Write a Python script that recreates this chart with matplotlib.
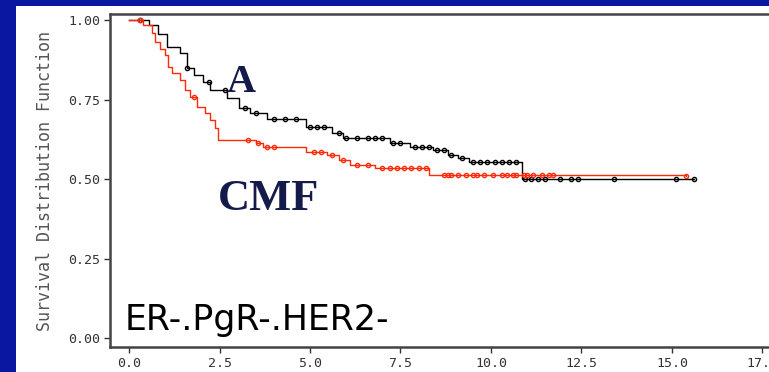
# Kaplan-Meier style survival plot, A vs CMF, ER-.PgR-.HER2- subgroup

import matplotlib
matplotlib.use("Agg")
import matplotlib.pyplot as plt
import numpy as np
from matplotlib.patches import Rectangle

# step curves (time in years, survival)
times_a = [0, 0.55, 0.8, 1.05, 1.4, 1.6, 1.8, 2.05, 2.25, 2.7, 3.05, 3.35, 3.8,
           4.9, 5.6, 5.9, 7.2, 7.75, 8.4, 8.8, 9.1, 9.4, 10.85, 15.6]
surv_a = [1.0, 0.985, 0.955, 0.915, 0.895, 0.85, 0.827, 0.805, 0.78, 0.755, 0.723,
          0.708, 0.69, 0.665, 0.645, 0.63, 0.613, 0.60, 0.59, 0.575, 0.565, 0.553,
          0.50, 0.50]
times_c = [0, 0.4, 0.63, 0.72, 0.86, 1.0, 1.08, 1.2, 1.4, 1.55, 1.69, 1.88, 2.1,
           2.24, 2.38, 2.46, 3.5, 3.7, 4.9, 5.47, 5.8, 6.1, 6.8, 8.3, 15.4]
surv_c = [1.0, 0.985, 0.96, 0.93, 0.91, 0.89, 0.852, 0.833, 0.81, 0.78, 0.758,
          0.726, 0.708, 0.686, 0.66, 0.623, 0.613, 0.60, 0.585, 0.575, 0.56, 0.544,
          0.535, 0.512, 0.51]

# censored observations
cens_a = [0.3, 1.6, 2.2, 2.65, 3.2, 3.5, 4.0, 4.3, 4.6, 5.0, 5.2, 5.4, 5.8, 6.0,
          6.3, 6.6, 6.8, 7.0, 7.3, 7.5, 7.9, 8.1, 8.3, 8.5, 8.7, 8.9, 9.2, 9.5,
          9.7, 9.9, 10.1, 10.3, 10.5, 10.7, 10.95, 11.1, 11.3, 11.5, 11.9, 12.2,
          12.4, 13.4, 15.1, 15.6]
cens_c = [0.3, 1.8, 3.3, 3.55, 3.8, 4.0, 5.1, 5.3, 5.6, 5.9, 6.3, 6.6, 7.0, 7.2,
          7.4, 7.6, 7.8, 8.0, 8.2, 8.7, 8.8, 8.9, 9.1, 9.3, 9.5, 9.6, 9.8, 10.05,
          10.3, 10.45, 10.6, 10.7, 10.9, 11.0, 11.15, 11.4, 11.6, 11.7, 15.4]

xticks = [0.0, 2.5, 5.0, 7.5, 10.0, 12.5, 15.0, 17.5]
xticklabels = ["0.0", "2.5", "5.0", "7.5", "10.0", "12.5", "15.0", "17.5"]
yticks = [0.0, 0.25, 0.5, 0.75, 1.0]
yticklabels = ["0.00", "0.25", "0.50", "0.75", "1.00"]


def step_at(t, times, surv):
    idx = np.searchsorted(times, t, side="right") - 1
    return np.asarray(surv)[idx]


fig = plt.figure(figsize=(7.69, 3.72), dpi=100)
fig.patch.set_facecolor("#0a17a0")
fig.add_artist(Rectangle((16 / 769, 0), 1, (372 - 6) / 372,
                         transform=fig.transFigure, facecolor="white",
                         edgecolor="none", zorder=0))

ax = fig.add_axes([110 / 769, 25 / 372, 1 - 110 / 769, 333 / 372])
ax.set_facecolor("white")

ax.step(times_a, surv_a, where="post", color="black", lw=1.0)
ax.step(times_c, surv_c, where="post", color="#ff2a0a", lw=1.0)
ax.plot(cens_a, step_at(cens_a, times_a, surv_a), "o", ms=3, mfc="none",
        mec="black", mew=1.0)
ax.plot(cens_c, step_at(cens_c, times_c, surv_c), "o", ms=3, mfc="none",
        mec="#ff2a0a", mew=1.0)

ax.set_xlim(-0.525, 17.68)
ax.set_ylim(-0.028, 1.019)
ax.set_xticks(xticks)
ax.set_xticklabels(xticklabels)
ax.set_yticks(yticks)
ax.set_yticklabels(yticklabels)
ax.tick_params(axis="both", direction="out", length=4, width=1, color="#333333",
               labelcolor="#333333", labelsize=9.5)
ax.tick_params(axis="y", pad=3)
ax.tick_params(axis="x", pad=3)
for lab in ax.get_xticklabels() + ax.get_yticklabels():
    lab.set_family("DejaVu Sans Mono")
for side in ["left", "bottom", "top"]:
    ax.spines[side].set_color("#444444")
    ax.spines[side].set_linewidth(1.8)
ax.spines["right"].set_visible(False)

fig.text(45 / 769, 0.513, "Survival Distribution Function", rotation=90,
         ha="center", va="center", family="DejaVu Sans Mono", fontsize=12,
         color="#555555")

ax.text(2.7, 0.774, "A", family="Liberation Serif", fontweight="bold",
        fontsize=29, color="#141a4a", ha="left", va="baseline")
ax.text(2.46, 0.403, "CMF", family="Liberation Serif", fontweight="bold",
        fontsize=32, color="#141a4a", ha="left", va="baseline")
ax.text(-0.11, 0.025, "ER-.PgR-.HER2-", family="DejaVu Sans", fontsize=25,
        color="black", ha="left", va="baseline")

fig.savefig("out.png", dpi=100, facecolor=fig.get_facecolor())
